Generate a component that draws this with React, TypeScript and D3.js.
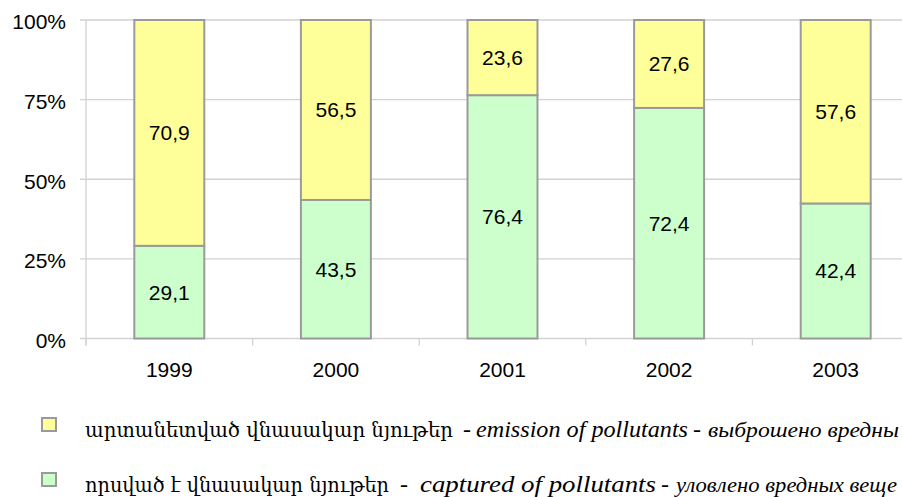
import * as d3 from 'd3';

const years = ['1999', '2000', '2001', '2002', '2003'];
const captured = [29.1, 43.5, 76.4, 72.4, 42.4];
const emitted = [70.9, 56.5, 23.6, 27.6, 57.6];
const yTicks = [0, 25, 50, 75, 100];

// legend text as it shows in the (right-cropped) picture
const legendEmitted = {
  am: 'արտանետված վնասակար նյութեր',
  en: 'emission of pollutants',
  ru: 'выброшено вредны',
};
const legendCaptured = {
  am: 'որսված է վնասակար նյութեր',
  en: 'captured of  pollutants',
  ru: 'уловлено вредных веще',
};

const W = 902;
const H = 497;
const colors = { emitted: '#FFFF99', captured: '#CCFFCC' };
const border = '#9A9A9A';
const grid = '#D2D2D2';
const sans = 'Liberation Sans, Arial, sans-serif';
const serif = 'Liberation Serif, DejaVu Serif, serif';
const armenian = 'DejaVu Serif, DejaVu Sans, serif';

const fmt = (v: number) => v.toFixed(1).replace('.', ',');

export default function App() {
  const x = d3.scaleBand().domain(years).range([86, 919]).paddingInner(0.58).paddingOuter(0.29);
  const y = d3.scaleLinear().domain([0, 100]).range([338.5, 20]);
  const step = x.step();
  const bounds = d3.range(years.length + 1).map((i) => 86 + i * step);

  const stacked = years.map((yr, i) => ({
    yr,
    segs: [
      { key: 'captured', v0: 0, v1: captured[i], v: captured[i] },
      { key: 'emitted', v0: captured[i], v1: captured[i] + emitted[i], v: emitted[i] },
    ],
  }));

  const legend = [
    { base: 437, fill: colors.emitted, t: legendEmitted, am: [85, 368], d1: 467, en: [476, 212], d2: 697, ru: [708, 191] },
    { base: 492, fill: colors.captured, t: legendCaptured, am: [85, 304], d1: 404, en: [420, 236], d2: 665, ru: [676, 221] },
  ];

  const sansStyle = { fontFamily: sans, fontSize: 21 };
  const serifStyle = { fontFamily: serif, fontSize: 24 };
  const italicStyle = { fontFamily: serif, fontSize: 24, fontStyle: 'italic' as const };
  const ruStyle = { fontFamily: serif, fontSize: 21, fontStyle: 'italic' as const };
  const armStyle = { fontFamily: armenian, fontSize: 20 };

  return (
    <svg width={W} height={H} style={{ position: 'absolute', left: 0, top: 0, background: '#fff' }}>
      {/* grid */}
      {yTicks.map((t) => (
        <line key={'g' + t} x1={80} x2={919} y1={y(t)} y2={y(t)} stroke={grid} strokeWidth={1.3} />
      ))}
      {/* axes */}
      <line x1={86} x2={86} y1={y(100)} y2={y(0) + 7} stroke={grid} strokeWidth={1.3} />
      {bounds.map((b, i) => (
        <line key={'xt' + i} x1={b} x2={b} y1={y(0)} y2={y(0) + 7} stroke={grid} strokeWidth={1.3} />
      ))}
      {yTicks.map((t) => (
        <text key={'yl' + t} x={66} y={y(t) + 9.3} textAnchor="end" style={sansStyle} fill="#000">
          {t + '%'}
        </text>
      ))}
      {years.map((yr) => (
        <text key={'xl' + yr} x={x(yr)! + x.bandwidth() / 2} y={376.7} textAnchor="middle" style={sansStyle} fill="#000">
          {yr}
        </text>
      ))}
      {/* bars */}
      {stacked.map((d) => (
        <g key={d.yr}>
          {d.segs.map((s) => (
            <rect
              key={s.key}
              x={x(d.yr)}
              y={y(s.v1)}
              width={x.bandwidth()}
              height={y(s.v0) - y(s.v1)}
              fill={colors[s.key as 'emitted' | 'captured']}
              stroke={border}
              strokeWidth={2}
            />
          ))}
          {d.segs.map((s) => (
            <text
              key={'t' + s.key}
              x={x(d.yr)! + x.bandwidth() / 2}
              y={(y(s.v0) + y(s.v1)) / 2 + 7.5}
              textAnchor="middle"
              style={sansStyle}
              fill="#000"
            >
              {fmt(s.v)}
            </text>
          ))}
        </g>
      ))}
      {/* legend */}
      {legend.map((l, i) => (
        <g key={'lg' + i}>
          <rect x={42} y={l.base - 19} width={14} height={13} fill={l.fill} stroke={border} strokeWidth={2} />
          <text x={l.am[0]} y={l.base} style={armStyle} textLength={l.am[1]} lengthAdjust="spacingAndGlyphs">
            {l.t.am}
          </text>
          <text x={l.d1} y={l.base} style={serifStyle} textAnchor="middle">-</text>
          <text x={l.en[0]} y={l.base} style={italicStyle} textLength={l.en[1]} lengthAdjust="spacingAndGlyphs">
            {l.t.en}
          </text>
          <text x={l.d2} y={l.base} style={serifStyle} textAnchor="middle">-</text>
          <text x={l.ru[0]} y={l.base} style={ruStyle} textLength={l.ru[1]} lengthAdjust="spacingAndGlyphs">
            {l.t.ru}
          </text>
        </g>
      ))}
    </svg>
  );
}
